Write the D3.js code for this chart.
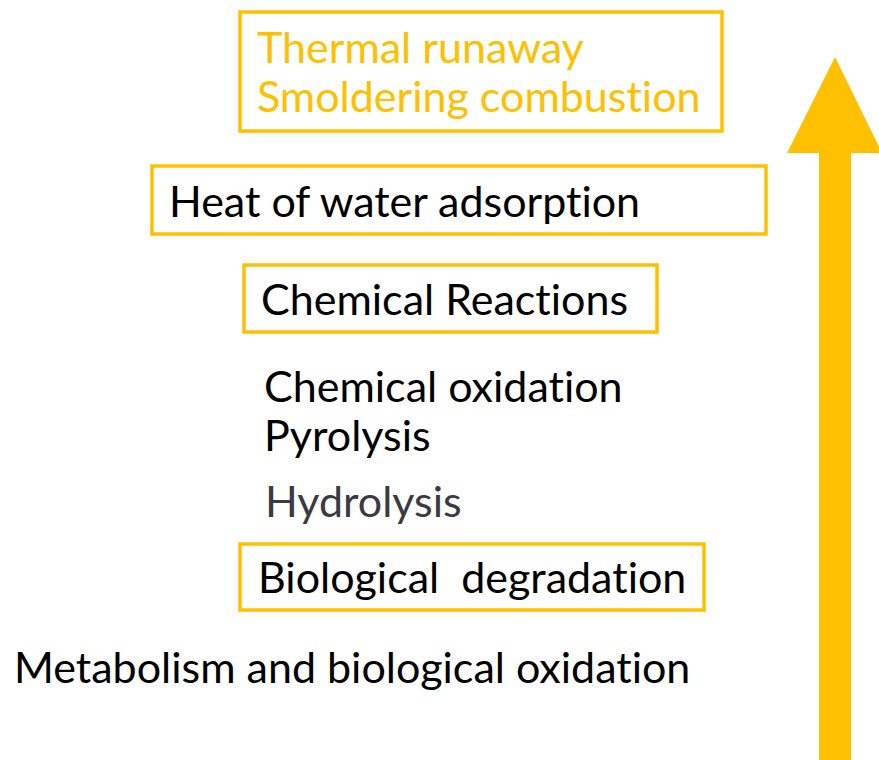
<!DOCTYPE html>
<html>
<head>
<meta charset="utf-8">
<script src="https://cdn.jsdelivr.net/npm/d3@7"></script>
<style>
  body { margin: 0; background: #fff; }
  svg text { font-family: Lato, "Open Sans", sans-serif; font-variant-ligatures: none; font-feature-settings: "liga" 0; }
</style>
</head>
<body>
<script>
  var width = 879, height = 760;

  // labels, bottom to top
  var boxedLabels = [
    ['Thermal runaway', 'Smoldering combustion'],
    ['Heat of water adsorption'],
    ['Chemical Reactions'],
    ['Biological  degradation']
  ];
  var plainLabels = [
    ['Chemical oxidation', 'Pyrolysis'],
    ['Hydrolysis'],
    ['Metabolism and biological oxidation']
  ];

  var gold = '#ffc000';

  // layout of boxes: x0, y0, x1, y1, text x, first baseline, colour
  var boxLayout = [
    {x0: 240, y0: 12, x1: 722, y1: 131, tx: 257, ty: 63, fill: gold},
    {x0: 152, y0: 166, x1: 766, y1: 234, tx: 169, ty: 217, fill: '#000'},
    {x0: 244, y0: 265, x1: 657, y1: 332, tx: 261, ty: 315, fill: '#000'},
    {x0: 240, y0: 544, x1: 704, y1: 610, tx: 258, ty: 593, fill: '#000'}
  ];
  var plainLayout = [
    {tx: 264, ty: 402, fill: '#000'},
    {tx: 265, ty: 517, fill: '#3a3a44'},
    {tx: 14, ty: 683, fill: '#000'}
  ];
  var lineHeight = 49, fontSize = 43;

  var svg = d3.select('body').append('svg')
    .attr('width', width)
    .attr('height', height);

  var boxes = svg.selectAll('g.box')
    .data(boxedLabels)
    .enter().append('g')
    .attr('class', 'box');

  boxes.append('rect')
    .attr('x', function(d, i) { return boxLayout[i].x0; })
    .attr('y', function(d, i) { return boxLayout[i].y0; })
    .attr('width', function(d, i) { return boxLayout[i].x1 - boxLayout[i].x0; })
    .attr('height', function(d, i) { return boxLayout[i].y1 - boxLayout[i].y0; })
    .attr('fill', 'none')
    .attr('stroke', gold)
    .attr('stroke-width', 3.5);

  boxes.each(function(d, i) {
    var l = boxLayout[i];
    d3.select(this).selectAll('text')
      .data(d)
      .enter().append('text')
      .attr('x', l.tx)
      .attr('y', function(t, j) { return l.ty + j * lineHeight; })
      .attr('fill', l.fill)
      .style('font-size', fontSize + 'px')
      .style('white-space', 'pre')
      .text(function(t) { return t; });
  });

  var plains = svg.selectAll('g.plain')
    .data(plainLabels)
    .enter().append('g')
    .attr('class', 'plain');

  plains.each(function(d, i) {
    var l = plainLayout[i];
    d3.select(this).selectAll('text')
      .data(d)
      .enter().append('text')
      .attr('x', l.tx)
      .attr('y', function(t, j) { return l.ty + j * lineHeight; })
      .attr('fill', l.fill)
      .style('font-size', fontSize + 'px')
      .text(function(t) { return t; });
  });

  // big arrow on the right
  var arrow = d3.path();
  arrow.moveTo(835, 57);
  arrow.lineTo(882, 153);
  arrow.lineTo(851, 153);
  arrow.lineTo(851, 760);
  arrow.lineTo(819, 760);
  arrow.lineTo(819, 153);
  arrow.lineTo(787, 153);
  arrow.closePath();

  svg.append('path')
    .attr('d', arrow.toString())
    .attr('fill', gold);
</script>
</body>
</html>
